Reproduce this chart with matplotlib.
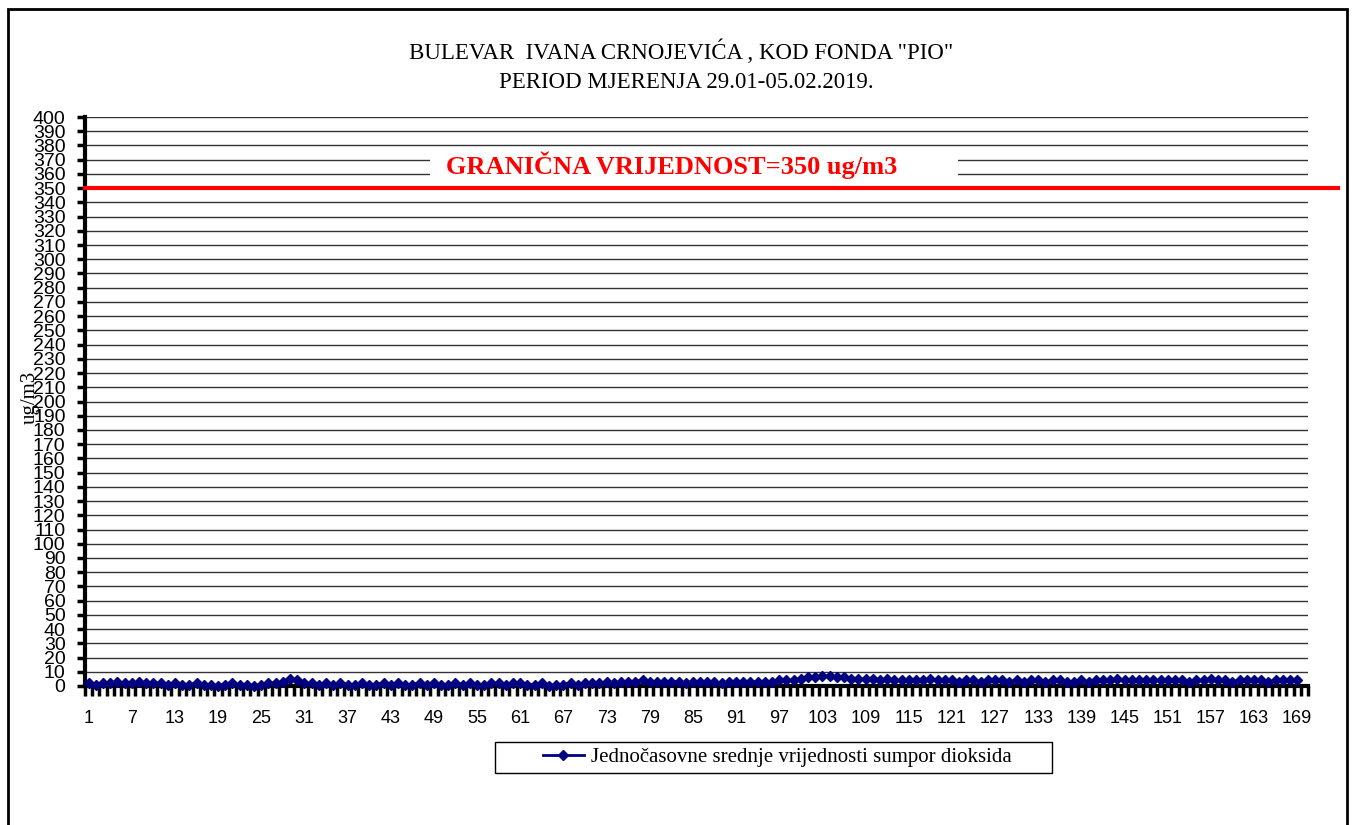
import matplotlib
matplotlib.use("Agg")
import matplotlib.pyplot as plt
from matplotlib.patches import Rectangle
import numpy as np

title_lines = ['BULEVAR  IVANA CRNOJEVIĆA , KOD FONDA "PIO"', 'PERIOD MJERENJA 29.01-05.02.2019.']
y_label = "ug/m3"
limit_value = 350
limit_text = "GRANIČNA VRIJEDNOST=350 ug/m3"
series_name = "Jednočasovne srednje vrijednosti sumpor dioksida"

hours = list(range(1, 170))
so2 = [2, 1, 2, 2, 3, 2, 2, 3, 2, 2, 2, 1,
       2, 1, 1, 2, 1, 1, 0, 1, 2, 1, 1, 0,
       1, 2, 2, 3,
       5, 4, 2,
       2, 1, 2, 1, 2, 1, 1, 2, 1, 1, 2, 1, 2, 1, 1, 2, 1, 2, 1, 1, 2, 1, 2, 1, 1, 2, 2, 1, 2,
       2, 1, 1, 2, 0, 1,
       1, 2, 1, 2, 2, 2, 3, 2, 3, 3,
       3, 4, 3, 3, 3, 3, 3, 2, 3, 3, 3, 3, 2, 3, 3, 3, 3, 3, 3, 3,
       4, 4, 4, 5,
       6, 6, 7, 7, 6,
       6, 5, 5, 5, 5,
       4, 5, 4, 4, 4, 4, 4, 5, 4, 4,
       4, 3, 4, 4, 3, 4, 4, 4, 3, 4,
       3, 4, 4, 3, 4, 4, 3, 3, 4, 3,
       4, 4, 4, 5, 4, 4, 4, 4, 4, 4,
       4, 4, 4, 3, 4, 4, 5, 4, 4, 3,
       4, 4, 4, 4, 3, 4, 4, 4, 4]
x_tick_labels = list(range(1, 170, 6))
y_ticks = list(range(0, 401, 10))

W, H = 1356, 825
fig = plt.figure(figsize=(W / 100, H / 100), dpi=100)
fig.patch.set_facecolor("white")

# outer frame
fig.patches.append(Rectangle((8 / W, -0.02), (1347 - 8) / W, 1.02 - 9 / H,
                             transform=fig.transFigure, fill=False,
                             edgecolor="black", linewidth=2))

ax = fig.add_axes([85 / W, 1 - 686 / H, (1308 - 85) / W, (686 - 117) / H])
ax.set_xlim(0.5, 170.5)
ax.set_ylim(0, 400)

for t in y_ticks:
    ax.axhline(t, color="#333333", linewidth=1, zorder=1)

ax.plot(hours, so2, color="#000080", marker="D", markersize=5.5, linewidth=2,
        label=series_name, zorder=4, clip_on=False)

# limit line
ax.axhline(limit_value, xmin=0, xmax=(1338 - 85) / (1308 - 85), color="#ff0000",
           linewidth=3, zorder=3, clip_on=False)
ax.add_patch(Rectangle(((430 - 85) / 1223, 352 / 400), (958 - 430) / 1223, 23 / 400,
                       transform=ax.transAxes, facecolor="white", edgecolor="none", zorder=2))
ax.text((672 - 85) / 1223, 366, limit_text, transform=ax.get_yaxis_transform(),
        ha="center", va="center", color="#ff0000", fontsize=19, fontweight="bold",
        family="Liberation Serif", zorder=5)

for s in ["top", "right"]:
    ax.spines[s].set_visible(False)
ax.spines["left"].set_linewidth(3)
ax.spines["bottom"].set_linewidth(3)

ax.set_yticks(y_ticks)
ax.set_yticklabels([str(v) for v in y_ticks], family="Liberation Sans", fontsize=14)
ax.tick_params(axis="y", direction="out", length=6, width=2.5, pad=8, color="black")

ax.set_xticks(x_tick_labels)
ax.set_xticklabels([str(v) for v in x_tick_labels], family="Liberation Sans", fontsize=13)
ax.tick_params(axis="x", which="major", length=0, pad=17)
ax.set_xticks(np.arange(0.5, 171, 1), minor=True)
ax.tick_params(axis="x", which="minor", direction="out", length=7, width=2.5, color="black")

fig.text(30 / W, 1 - 397 / H, y_label, rotation=90, ha="center", va="center",
         family="Liberation Serif", fontsize=15)

fig.text(681 / W, 1 - 52 / H, title_lines[0], ha="center", va="center",
         family="Liberation Serif", fontsize=16.5)
fig.text(686 / W, 1 - 82 / H, title_lines[1], ha="center", va="center",
         family="Liberation Serif", fontsize=16.5)

# legend box
fig.patches.append(Rectangle((495 / W, 1 - 773 / H), (1052 - 495) / W, 31 / H,
                             transform=fig.transFigure, facecolor="white",
                             edgecolor="black", linewidth=1))
leg = fig.legend(loc="center", bbox_to_anchor=(777 / W, 1 - 757 / H), frameon=False,
                 prop={"family": "Liberation Serif", "size": 15},
                 handlelength=2.0, borderpad=0.2, markerscale=0.9, handletextpad=0.3)

fig.savefig("out.png", dpi=100, facecolor="white")
